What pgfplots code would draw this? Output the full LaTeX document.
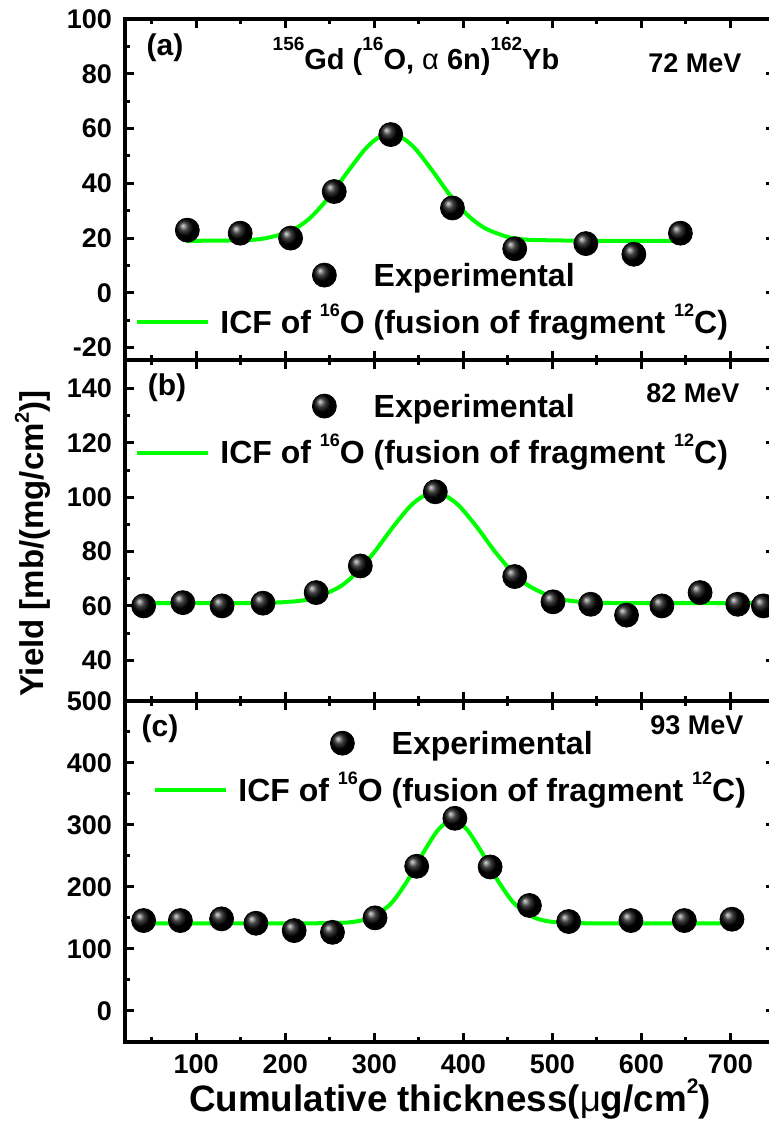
\documentclass[border=0pt]{standalone}
\usepackage{fontspec}
\setmainfont{Liberation Sans}
\usepackage{pgfplots}
\pgfplotsset{compat=1.18}
\definecolor{fitgreen}{RGB}{0,255,0}
\newcommand{\fs}[1]{\fontsize{#1}{#1}\selectfont}
\newcommand{\up}[3]{\raisebox{#2}{\fs{#1}#3}}
\pgfplotsset{
  panel/.style={
    width=325pt, height=170.5pt, scale only axis, anchor=south west,
    xmin=20, xmax=750,
    xtick={100,200,...,700}, minor xtick={50,150,...,750},
    tick align=inside, major tick length=4.5pt, minor tick length=2.5pt,
    tick style={black, line width=1.5pt},
    axis line style={line width=2pt},
    ticklabel style={font=\bfseries\fs{13.5}},
    /pgf/number format/assume math mode=true,
    yticklabel style={xshift=-3pt},
    xticklabel style={yshift=-3pt},
    minor y tick num=1,
    legend cell align=center,
    legend style={draw=none, fill=none, inner sep=0pt, anchor=north west,
      column sep=5pt, row sep=5.5pt,
      nodes={inner sep=0pt, text height=14.5pt, text depth=3.4pt, font=\bfseries\fs{16}}},
  },
  expt/.style={only marks, mark=ball, mark size=6pt, ball color=black,
    legend image code/.code={\path (0pt,0pt); \draw[##1,overlay] plot coordinates {(93.5pt,0pt)};}},
  fit/.style={no marks, smooth, color=fitgreen, line width=2pt,
    legend image code/.code={\draw[##1] (0pt,0pt) -- (35.5pt,0pt);}},
}
\begin{document}
\begin{tikzpicture}
\useasboundingbox (0pt,0pt) rectangle (384pt,562.5pt);
% ---------------- (c)
\begin{axis}[panel, at={(62.5pt,41.5pt)}, ymin=-50, ymax=500, ytick={0,100,...,500},
  legend style={at={(0.0431,0.930)}}]
\addplot[expt] coordinates {(40.9,145.9) (82.2,145.9) (128.5,148.6) (167,141.5) (210,129.7) (253,126.9) (300.8,150.2) (347.6,233.4) (390.5,310.8) (430.1,232.3) (474.2,170.2) (518.3,144.3) (588.2,145.9) (648.2,145.9) (701.7,148.0)};
\addlegendentry{Experimental}
\addplot[fit] coordinates {(41,141.5) (150,141.5) (250,141.7) (280,144.5) (300,153.1) (320,175.3) (340,216.5) (355,255.2) (370,289.2) (380,302.9) (388,306.5) (396,302.9) (406,289.2) (421,255.2) (436,216.5) (456,175.3) (476,153.1) (496,144.5) (526,141.7) (600,141.5) (702,141.5)};
\addlegendentry{ICF of \up{9}{8.5pt}{16}O (fusion of fragment \up{9}{8.5pt}{12}C)}
\end{axis}
% ---------------- (b)
\begin{axis}[panel, at={(62.5pt,212pt)}, ymin=25, ymax=150.5, ytick={40,60,...,140}, xticklabels={},
  legend style={at={(0.0154,0.9185)}}]
\addplot[expt] coordinates {(40.9,60.0) (85,61.2) (129,60.0) (175,61.0) (234.7,64.9) (284.3,74.7) (368.5,102.0) (457.7,70.8) (500.7,61.5) (543,60.6) (583.3,56.6) (623,60.0) (665.9,64.9) (708.2,60.6) (737,60.0)};
\addlegendentry{Experimental}
\addplot[fit] coordinates {(41,61.0) (150,61.0) (200,61.4) (230,62.7) (260,66.8) (280,72.2) (300,79.8) (320,88.6) (340,96.6) (355,100.4) (368,101.5) (380,100.5) (395,96.9) (415,89.1) (435,80.2) (455,72.5) (475,67.1) (505,62.8) (540,61.3) (600,61.0) (750,61.0)};
\addlegendentry{ICF of \up{9}{8.5pt}{16}O (fusion of fragment \up{9}{8.5pt}{12}C)}
\end{axis}
% ---------------- (a)
\begin{axis}[panel, at={(62.5pt,382.5pt)}, ymin=-24.5, ymax=100, ytick={-20,0,...,100}, xticklabels={},
  legend style={at={(0.0154,0.3026)}}]
\addplot[expt] coordinates {(90,22.9) (149.4,21.8) (206,20.0) (255,37.0) (318.5,57.8) (387.8,31.0) (457.7,16.1) (537.6,18.0) (591.5,14.1) (643.8,21.8)};
\addlegendentry{Experimental}
\addplot[fit] coordinates {(90,19.0) (150,19.2) (175,19.8) (200,21.8) (215,24.2) (230,28.0) (250,35.3) (270,44.2) (290,52.6) (305,56.8) (318,58.0) (330,56.9) (345,53.0) (365,44.7) (385,35.7) (405,28.3) (425,23.5) (450,20.4) (465,19.65) (480,19.3) (550,19.0) (644,19.0)};
\addlegendentry{ICF of \up{9}{8.5pt}{16}O (fusion of fragment \up{9}{8.5pt}{12}C)}
\end{axis}
% ---------------- annotations
\node[anchor=base, font=\bfseries\fs{15}] at (82.5pt,534.5pt) {(a)};
\node[anchor=base, font=\bfseries\fs{14.5}] at (208pt,527.5pt) {\up{9.5}{9.5pt}{156}Gd (\up{9.5}{9.5pt}{16}O, {\mdseries α} 6n)\up{9.5}{9.5pt}{162}Yb};
\node[anchor=base, font=\bfseries\fs{13.5}] at (347.5pt,526pt) {72 MeV};
\node[anchor=base, font=\bfseries\fs{15}] at (83.5pt,364.5pt) {(b)};
\node[anchor=base, font=\bfseries\fs{13.5}] at (346.5pt,361pt) {82 MeV};
\node[anchor=base, font=\bfseries\fs{15}] at (80pt,194pt) {(c)};
\node[anchor=base, font=\bfseries\fs{13.5}] at (348.5pt,195pt) {93 MeV};
\node[rotate=90, font=\bfseries\fs{16.5}] at (16.5pt,290.75pt) {Yield [mb/(mg/cm\up{10}{7.5pt}{2})]};
\node[anchor=base, font=\bfseries\fs{18.4}] at (225pt,6.5pt) {Cumulative thickness({\mdseries μ}g/cm\up{10.5}{9pt}{2})};
\end{tikzpicture}
\end{document}
